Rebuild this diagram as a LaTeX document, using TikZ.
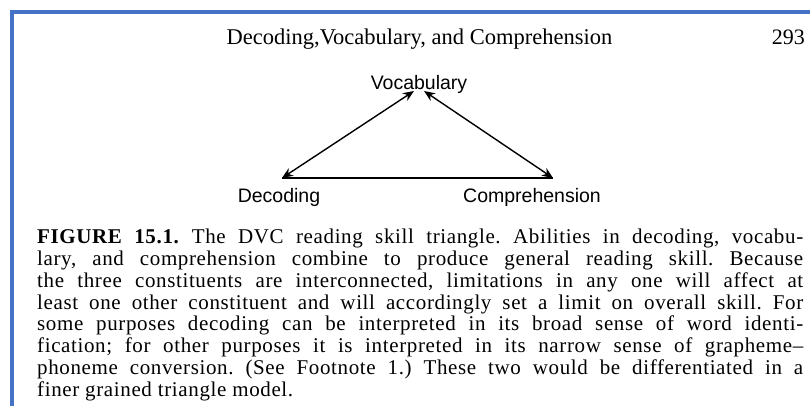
\documentclass[tikz,border=0pt]{standalone}
\usepackage{fontspec}
\setmainfont{Liberation Serif}
\newfontfamily\capfont[LetterSpace=3]{Liberation Serif}
\newfontfamily\labelfont{Liberation Sans}
\usetikzlibrary{arrows.meta}
\definecolor{frameblue}{RGB}{68,114,196}
\frenchspacing

\begin{document}
\begin{tikzpicture}[x=1pt,y=-1pt,
  lbl/.style={font=\labelfont\fontsize{19.5}{22}\selectfont,inner sep=0pt},
  link/.style={line width=1.4pt,{Stealth[length=11pt,width=9pt]}-{Stealth[length=11pt,width=9pt]}}]

\useasboundingbox (0,0) rectangle (810,406);
\draw[frameblue,line width=4pt] (12,406)--(12,12)--(810,12);

% running head
\node[anchor=base,inner sep=0pt,font=\fontsize{22.5}{24}\selectfont] (head) at (419.5,45) {Decoding,Vocabulary, and Comprehension};
\node[anchor=base east,inner sep=0pt,font=\fontsize{22}{24}\selectfont] (page) at (805,45) {293};

% triangle
\node[lbl,anchor=base] (voc) at (419,90) {Vocabulary};
\node[lbl,anchor=base] (dec) at (279,202) {Decoding};
\node[lbl,anchor=base] (com) at (532,202) {Comprehension};
\coordinate (vl) at ([xshift=-5pt,yshift=-1pt]voc.base);
\coordinate (vr) at ([xshift=5pt,yshift=-1pt]voc.base);
\coordinate (dl) at ([xshift=3pt,yshift=24pt]dec.base);
\coordinate (cr) at ([xshift=21pt,yshift=24pt]com.base);
\draw[link] (dl)--(vl);
\draw[link] (cr)--(vr);
\draw[line width=1.4pt] (dl)--(cr);

% caption
\node[anchor=north west,text width=766pt,inner sep=0pt,align=justify,font=\capfont\fontsize{21}{21.8}\selectfont] (cap) at (37,229)
{\textbf{FIGURE 15.1.} The DVC reading skill triangle. Abilities in decoding, vocabu-\linebreak
lary, and comprehension combine to produce general reading skill. Because\linebreak
the three constituents are interconnected, limitations in any one will affect at\linebreak
least one other constituent and will accordingly set a limit on overall skill. For\linebreak
some purposes decoding can be interpreted in its broad sense of word identi-\linebreak
fication; for other purposes it is interpreted in its narrow sense of grapheme–\linebreak
phoneme conversion. (See Footnote 1.) These two would be differentiated in a\linebreak
finer grained triangle model.};

\end{tikzpicture}
\end{document}
